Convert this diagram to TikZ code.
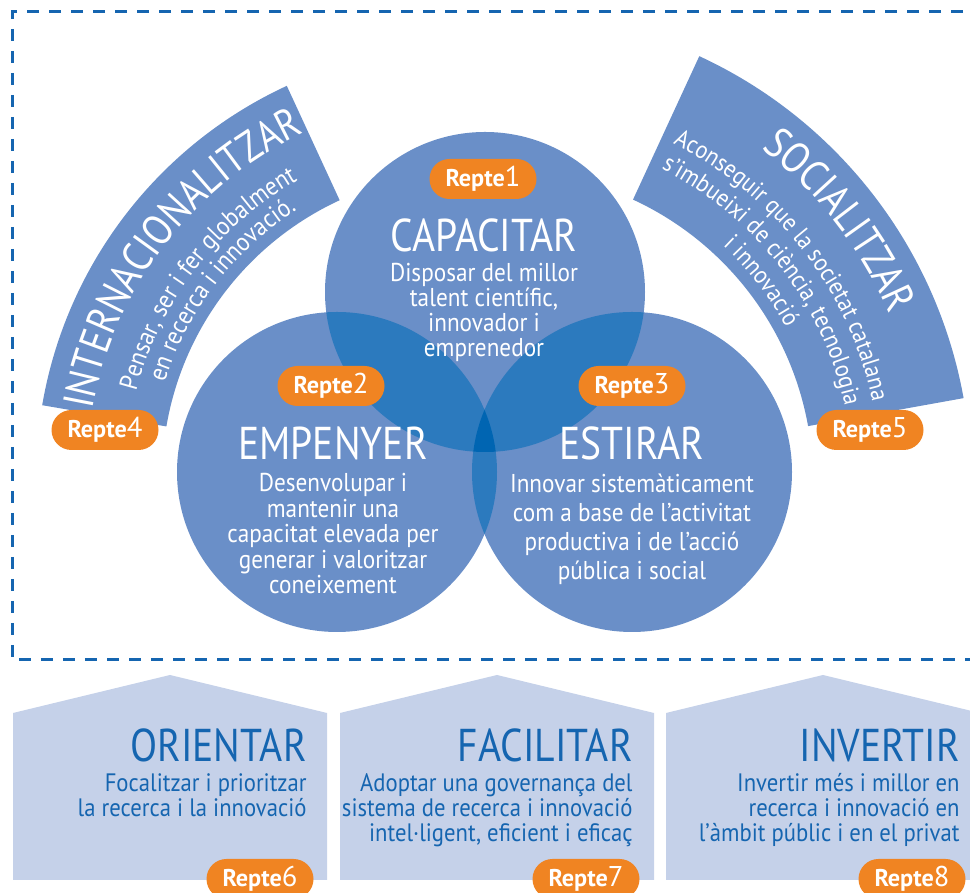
\documentclass[tikz,border=0pt]{standalone}
\usepackage{fontspec}
\setmainfont{PT Sans}
\newfontfamily\headfont{PT Sans}[FakeStretch=0.86]
\newfontfamily\bodyfont{PT Sans}[FakeStretch=0.9]
\usetikzlibrary{shapes,positioning,decorations.text}
\definecolor{bandblue}{RGB}{106,143,200}
\definecolor{overlapblue}{RGB}{44,122,190}
\definecolor{coreblue}{RGB}{0,101,178}
\definecolor{repteorange}{RGB}{240,132,34}
\definecolor{boxblue}{RGB}{197,209,233}
\definecolor{textblue}{RGB}{21,101,176}
\newcommand{\repte}[1]{\textbf{Repte}{\fontsize{14.3}{14.3}\selectfont #1}}
\newcommand{\arctitle}{\headfont\fontsize{21.5}{21.5}\selectfont}
\newcommand{\arcsub}{\bodyfont\fontsize{12.9}{12.9}\selectfont}
\newcommand{\arcsubr}{\bodyfont\fontsize{12.4}{12.4}\selectfont}
\tikzset{
	band/.style={
		fill=bandblue
	},
	circ/.style={
		circle,
		fill=bandblue,
		minimum size=160pt,
		inner sep=0pt
	},
	title/.style={
		font=\headfont\fontsize{23}{24}\selectfont,
		text=white,
		anchor=base,
		inner sep=0pt
	},
	subtitle/.style={
		font=\bodyfont\fontsize{12.9}{12.5}\selectfont,
		text=white,
		align=center,
		anchor=base,
		inner sep=0pt
	},
	repte/.style={
		rectangle,
		rounded corners=10pt,
		fill=repteorange,
		text=white,
		minimum width=53.5pt,
		minimum height=20pt,
		inner sep=0pt,
		font=\fontsize{12.1}{12.1}\selectfont
	},
	house/.style={
		fill=boxblue
	},
	boxtitle/.style={
		font=\headfont\fontsize{23}{24}\selectfont,
		text=textblue,
		anchor=base east,
		inner sep=0pt
	},
	boxtext/.style={
		font=\bodyfont\fontsize{12.6}{12.5}\selectfont,
		text=textblue,
		align=right,
		anchor=base east,
		inner sep=0pt
	},
	frame/.style={
		draw=textblue,
		line width=1.5pt,
		dash pattern=on 6pt off 5pt
	},
	arctext/.style={
		decorate,
		decoration={text along path, text align=center, text color=white, text={#1}}
	},
}

\begin{document}
\begin{tikzpicture}[x=0.5pt,y=0.5pt]
		\useasboundingbox (0,0) rectangle (970,893);
		\clip (0,0) rectangle (970,893);
		\draw [frame] (985,881) -- (12,881) -- (12,233) -- (985,233);

		% arcs
		\coordinate (lc) at (468,415);
		\coordinate (rc) at (503,412);
		\fill [band] ([shift={(170.3:432)}]lc) arc [start angle=170.3, end angle=114.8, radius=216pt]
			-- ([shift={(114.8:306)}]lc) arc [start angle=114.8, end angle=170.3, radius=153pt] -- cycle;
		\fill [band] ([shift={(65.2:468)}]rc) arc [start angle=65.2, end angle=10.2, radius=234pt]
			-- ([shift={(10.2:310)}]rc) arc [start angle=10.2, end angle=65.2, radius=155pt] -- cycle;
		\path [arctext={|\arctitle|INTERNACIONALITZAR}] ([shift={(170.3:382)}]lc) arc [start angle=170.3, end angle=114.8, radius=191pt];
		\path [arctext={|\arcsub|Pensar, ser i fer globalment}] ([shift={(170.3:343)}]lc) arc [start angle=170.3, end angle=114.8, radius=171.5pt];
		\path [arctext={|\arcsub|en recerca i innovació.}] ([shift={(170.3:318)}]lc) arc [start angle=170.3, end angle=114.8, radius=159pt];
		\path [arctext={|\arctitle|SOCIALITZAR}] ([shift={(65.2:421)}]rc) arc [start angle=65.2, end angle=10.2, radius=210.5pt];
		\path [arctext={|\arcsubr|Aconseguir que la societat catalana}] ([shift={(65.2:378)}]rc) arc [start angle=65.2, end angle=10.2, radius=189pt];
		\path [arctext={|\arcsubr|s’imbueixi de ciència, tecnologia}] ([shift={(65.2:350)}]rc) arc [start angle=65.2, end angle=10.2, radius=175pt];
		\path [arctext={|\arcsubr|i innovació}] ([shift={(65.2:322)}]rc) arc [start angle=65.2, end angle=10.2, radius=161pt];

		% circles
		\node (capacitar) [circ] at (485,601) {};
		\node (empenyer) [circ] at (337,421) {};
		\node (estirar) [circ] at (632,421) {};
		\begin{scope}
			\clip (capacitar.center) circle [radius=80pt];
			\fill [overlapblue] (empenyer.center) circle [radius=80pt] (estirar.center) circle [radius=80pt];
		\end{scope}
		\begin{scope}
			\clip (empenyer.center) circle [radius=80pt];
			\fill [overlapblue] (estirar.center) circle [radius=80pt];
			\clip (capacitar.center) circle [radius=80pt];
			\fill [coreblue] (estirar.center) circle [radius=80pt];
		\end{scope}

		% multi-line nodes sit on their last baseline
		\node (capacitar-t) [title] at (484,641) {CAPACITAR};
		\node (capacitar-s) [subtitle] at (484,536) {Disposar del millor\\talent científic,\\innovador i\\emprenedor};
		\node (empenyer-t) [title] at (333,433) {EMPENYER};
		\node (empenyer-s) [subtitle,font=\bodyfont\fontsize{12.9}{12.75}\selectfont] at (333,299) {Desenvolupar i\\mantenir una\\capacitat elevada per\\generar i valoritzar\\coneixement};
		\node (estirar-t) [title] at (632,433) {ESTIRAR};
		\node (estirar-s) [subtitle,font=\bodyfont\fontsize{12.9}{14.5}\selectfont] at (632,313) {Innovar sistemàticament\\com a base de l’activitat\\productiva i de l’acció\\pública i social};

		% bottom boxes
		\fill [house] (13,13) -- (13,180) -- (170,218) -- (327,180) -- (327,13) -- cycle;
		\fill [house] (340,13) -- (340,180) -- (497,218) -- (654,180) -- (654,13) -- cycle;
		\fill [house] (666,13) -- (666,180) -- (823,218) -- (980,180) -- (980,13) -- cycle;
		\node (orientar) [boxtitle] at (307,131) {ORIENTAR};
		\node (orientar-s) [boxtext] at (307,76) {Focalitzar i prioritzar\\la recerca i la innovació};
		\node (facilitar) [boxtitle] at (633,131) {FACILITAR};
		\node (facilitar-s) [boxtext] at (633,51) {Adoptar una governança del\\sistema de recerca i innovació\\intel·ligent, eficient i eficaç};
		\node (invertir) [boxtitle] at (960,131) {INVERTIR};
		\node (invertir-s) [boxtext] at (960,51) {Invertir més i millor en\\recerca i innovació en\\l’àmbit públic i en el privat};

		\node (repte1) [repte] at (483,714) {\repte{1}};
		\node (repte2) [repte] at (331,507) {\repte{2}};
		\node (repte3) [repte] at (632,507) {\repte{3}};
		\node (repte4) [repte] at (105,463) {\repte{4}};
		\node (repte5) [repte] at (870,463) {\repte{5}};
		\node (repte6) [repte] at (260,14) {\repte{6}};
		\node (repte7) [repte] at (586,14) {\repte{7}};
		\node (repte8) [repte] at (912,14) {\repte{8}};
\end{tikzpicture}
\end{document}
